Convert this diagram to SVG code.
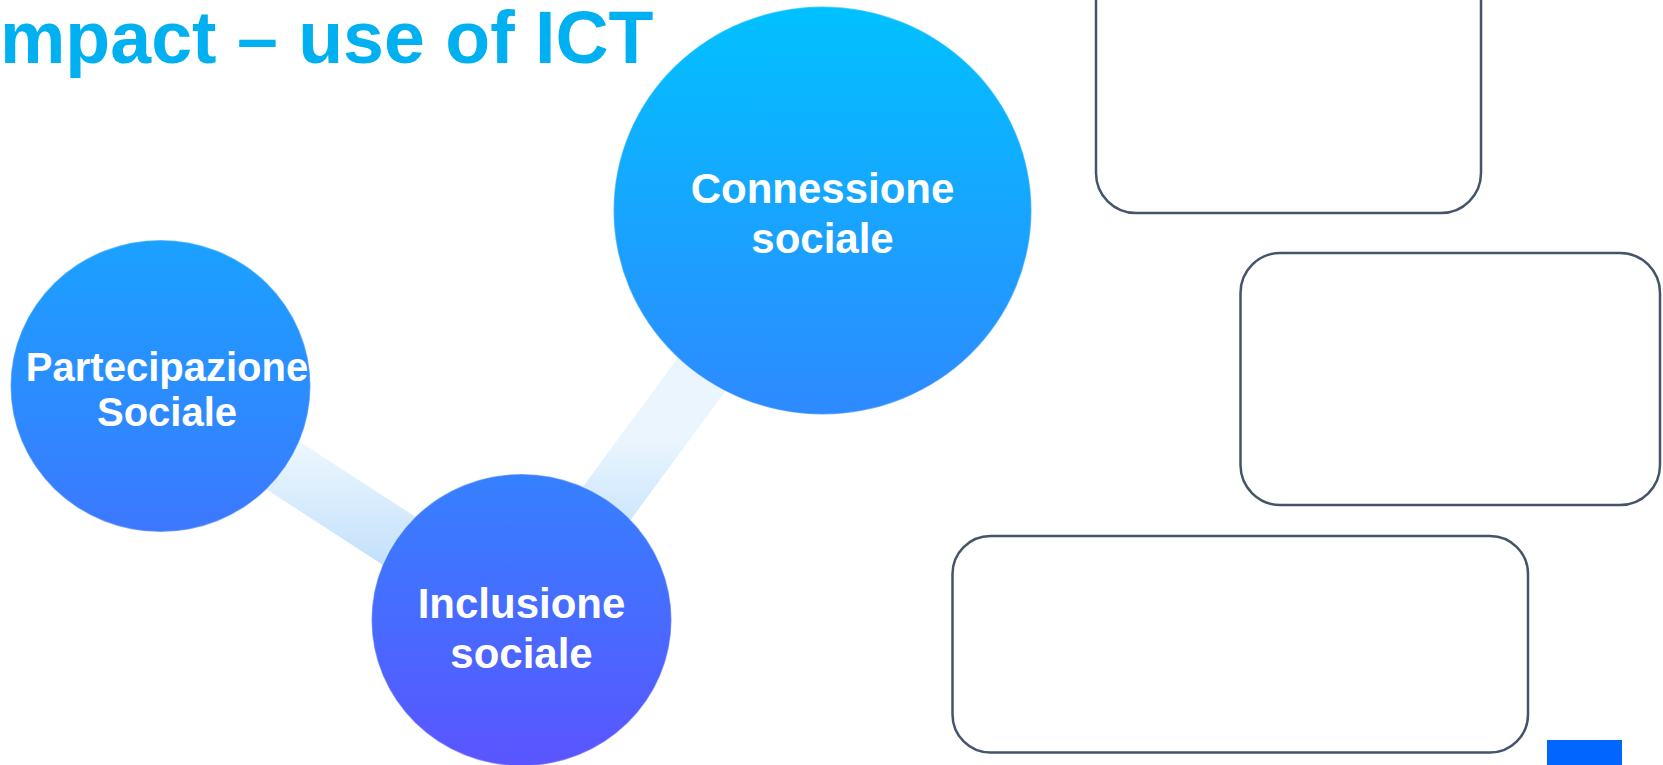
<svg xmlns="http://www.w3.org/2000/svg" width="1663" height="765" viewBox="0 0 1663 765">
  <style>
    .title { font-family: "Liberation Sans", Arial, sans-serif; font-weight: bold; font-size: 73.5px; fill: #00B0F0; }
    .lbl { font-family: "Liberation Sans", Arial, sans-serif; font-weight: bold; fill: #FFFFFF; text-anchor: middle; }
    .bubble { fill: url(#bubbleGrad); stroke: #ffffff; stroke-opacity: 0.3; stroke-width: 1.5; }
    .box { fill: #FFFFFF; stroke: #44546A; stroke-width: 2.5; }
    .bar { fill: none; stroke-width: 58; stroke-linecap: butt; }
  </style>
  <defs>
    <linearGradient id="bubbleGrad" gradientUnits="userSpaceOnUse" x1="0" y1="0" x2="0" y2="765">
      <stop offset="0" stop-color="#00C2FF"/>
      <stop offset="0.5" stop-color="#2A8EFF"/>
      <stop offset="1" stop-color="#5A55FF"/>
    </linearGradient>
    <linearGradient id="barGrad1" gradientUnits="userSpaceOnUse" x1="0" y1="440" x2="0" y2="575">
      <stop offset="0" stop-color="#EEF7FE"/>
      <stop offset="1" stop-color="#BFDFFB"/>
    </linearGradient>
    <linearGradient id="barGrad2" gradientUnits="userSpaceOnUse" x1="0" y1="440" x2="0" y2="530">
      <stop offset="0" stop-color="#EAF5FE"/>
      <stop offset="1" stop-color="#C9E5FC"/>
    </linearGradient>
  </defs>

  <rect width="1663" height="765" fill="#FFFFFF"/>

  <text class="title" x="0" y="62.5">mpact – use of ICT</text>

  <g id="connectors">
    <line class="bar" x1="160.5" y1="386" x2="521" y2="620" stroke="url(#barGrad1)"/>
    <line class="bar" x1="521" y1="620" x2="822.5" y2="210" stroke="url(#barGrad2)"/>
  </g>

  <g id="node-connessione">
    <ellipse class="bubble" cx="822.5" cy="210.5" rx="209" ry="204"/>
    <text class="lbl" x="822.5" y="202.5" font-size="42">Connessione</text>
    <text class="lbl" x="822.5" y="252.5" font-size="42">sociale</text>
  </g>

  <g id="node-partecipazione">
    <ellipse class="bubble" cx="160.5" cy="386" rx="150" ry="146"/>
    <text class="lbl" x="167" y="380.5" font-size="40">Partecipazione</text>
    <text class="lbl" x="167" y="425.5" font-size="40">Sociale</text>
  </g>

  <g id="node-inclusione">
    <ellipse class="bubble" cx="521.5" cy="620" rx="150" ry="146"/>
    <text class="lbl" x="521.5" y="617.5" font-size="42">Inclusione</text>
    <text class="lbl" x="521.5" y="667.5" font-size="42">sociale</text>
  </g>

  <g id="box-top">
    <rect class="box" x="1096" y="-60" width="385" height="273" rx="40" ry="40"/>
  </g>
  <g id="box-middle">
    <rect class="box" x="1240.5" y="253" width="419.5" height="252" rx="40" ry="40"/>
  </g>
  <g id="box-bottom">
    <rect class="box" x="952.5" y="536" width="575.5" height="216.5" rx="38" ry="38"/>
  </g>

  <g id="page-tag">
    <rect x="1547" y="740" width="75" height="30" fill="#0066FF"/>
  </g>
</svg>
